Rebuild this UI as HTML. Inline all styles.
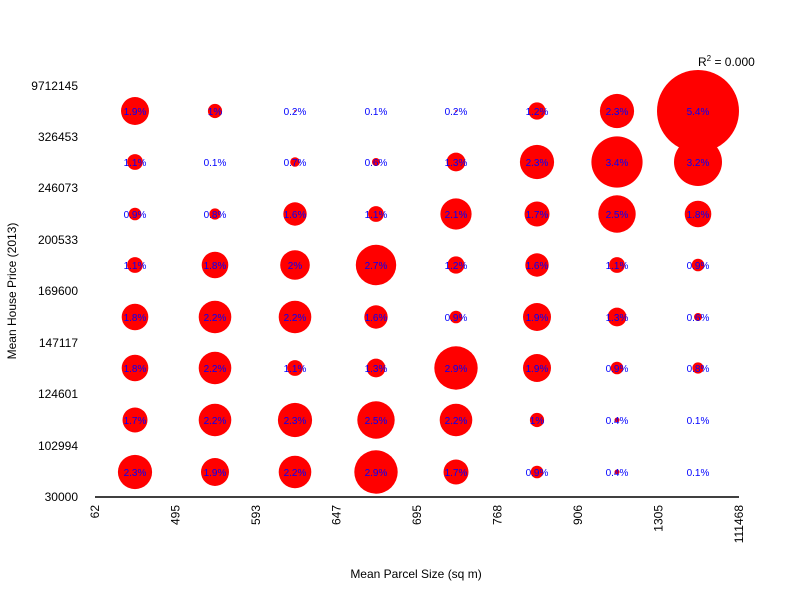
<!DOCTYPE html>
<html><head><meta charset="utf-8"><style>
html,body{margin:0;padding:0;background:#fff}
svg{display:block}
text{font-family:"Liberation Sans",sans-serif}
.p{font-size:10px;fill:#00f;text-anchor:middle}
</style></head><body>
<svg width="800" height="600" xmlns="http://www.w3.org/2000/svg">
<g fill="#f00">
<circle cx="135" cy="111" r="14.0"/><circle cx="215" cy="111" r="7.1"/><circle cx="295" cy="111" r="0.9"/><circle cx="456" cy="111" r="0.9"/><circle cx="537" cy="111" r="8.6"/><circle cx="617" cy="111" r="17.1"/><circle cx="698" cy="111" r="41"/>
<circle cx="135" cy="162" r="7.9"/><circle cx="295" cy="162" r="4.8"/><circle cx="376" cy="162" r="4.0"/><circle cx="456" cy="162" r="9.4"/><circle cx="537" cy="162" r="17.1"/><circle cx="617" cy="162" r="25.6"/><circle cx="698" cy="162" r="24.0"/>
<circle cx="135" cy="214" r="6.3"/><circle cx="215" cy="214" r="5.6"/><circle cx="295" cy="214" r="11.7"/><circle cx="376" cy="214" r="7.9"/><circle cx="456" cy="214" r="15.6"/><circle cx="537" cy="214" r="12.5"/><circle cx="617" cy="214" r="18.7"/><circle cx="698" cy="214" r="13.3"/>
<circle cx="135" cy="265" r="7.9"/><circle cx="215" cy="265" r="13.3"/><circle cx="295" cy="265" r="14.8"/><circle cx="376" cy="265" r="20.2"/><circle cx="456" cy="265" r="8.6"/><circle cx="537" cy="265" r="11.7"/><circle cx="617" cy="265" r="7.9"/><circle cx="698" cy="265" r="6.3"/>
<circle cx="135" cy="317" r="13.3"/><circle cx="215" cy="317" r="16.3"/><circle cx="295" cy="317" r="16.3"/><circle cx="376" cy="317" r="11.7"/><circle cx="456" cy="317" r="6.3"/><circle cx="537" cy="317" r="14.0"/><circle cx="617" cy="317" r="9.4"/><circle cx="698" cy="317" r="4.0"/>
<circle cx="135" cy="368" r="13.3"/><circle cx="215" cy="368" r="16.3"/><circle cx="295" cy="368" r="7.9"/><circle cx="376" cy="368" r="9.4"/><circle cx="456" cy="368" r="21.7"/><circle cx="537" cy="368" r="14.0"/><circle cx="617" cy="368" r="6.3"/><circle cx="698" cy="368" r="5.6"/>
<circle cx="135" cy="420" r="12.5"/><circle cx="215" cy="420" r="16.3"/><circle cx="295" cy="420" r="17.1"/><circle cx="376" cy="420" r="18.7"/><circle cx="456" cy="420" r="16.3"/><circle cx="537" cy="420" r="7.1"/><circle cx="617" cy="420" r="2.5"/>
<circle cx="135" cy="472" r="17.1"/><circle cx="215" cy="472" r="14.0"/><circle cx="295" cy="472" r="16.3"/><circle cx="376" cy="472" r="21.7"/><circle cx="456" cy="472" r="12.5"/><circle cx="537" cy="472" r="6.3"/><circle cx="617" cy="472" r="2.5"/>
</g>
<g class="p">
<text class="p" x="135" y="115">1.9%</text><text class="p" x="215" y="115">1%</text><text class="p" x="295" y="115">0.2%</text><text class="p" x="376" y="115">0.1%</text><text class="p" x="456" y="115">0.2%</text><text class="p" x="537" y="115">1.2%</text><text class="p" x="617" y="115">2.3%</text><text class="p" x="698" y="115">5.4%</text>
<text class="p" x="135" y="166">1.1%</text><text class="p" x="215" y="166">0.1%</text><text class="p" x="295" y="166">0.7%</text><text class="p" x="376" y="166">0.6%</text><text class="p" x="456" y="166">1.3%</text><text class="p" x="537" y="166">2.3%</text><text class="p" x="617" y="166">3.4%</text><text class="p" x="698" y="166">3.2%</text>
<text class="p" x="135" y="218">0.9%</text><text class="p" x="215" y="218">0.8%</text><text class="p" x="295" y="218">1.6%</text><text class="p" x="376" y="218">1.1%</text><text class="p" x="456" y="218">2.1%</text><text class="p" x="537" y="218">1.7%</text><text class="p" x="617" y="218">2.5%</text><text class="p" x="698" y="218">1.8%</text>
<text class="p" x="135" y="269">1.1%</text><text class="p" x="215" y="269">1.8%</text><text class="p" x="295" y="269">2%</text><text class="p" x="376" y="269">2.7%</text><text class="p" x="456" y="269">1.2%</text><text class="p" x="537" y="269">1.6%</text><text class="p" x="617" y="269">1.1%</text><text class="p" x="698" y="269">0.9%</text>
<text class="p" x="135" y="321">1.8%</text><text class="p" x="215" y="321">2.2%</text><text class="p" x="295" y="321">2.2%</text><text class="p" x="376" y="321">1.6%</text><text class="p" x="456" y="321">0.9%</text><text class="p" x="537" y="321">1.9%</text><text class="p" x="617" y="321">1.3%</text><text class="p" x="698" y="321">0.6%</text>
<text class="p" x="135" y="372">1.8%</text><text class="p" x="215" y="372">2.2%</text><text class="p" x="295" y="372">1.1%</text><text class="p" x="376" y="372">1.3%</text><text class="p" x="456" y="372">2.9%</text><text class="p" x="537" y="372">1.9%</text><text class="p" x="617" y="372">0.9%</text><text class="p" x="698" y="372">0.8%</text>
<text class="p" x="135" y="424">1.7%</text><text class="p" x="215" y="424">2.2%</text><text class="p" x="295" y="424">2.3%</text><text class="p" x="376" y="424">2.5%</text><text class="p" x="456" y="424">2.2%</text><text class="p" x="537" y="424">1%</text><text class="p" x="617" y="424">0.4%</text><text class="p" x="698" y="424">0.1%</text>
<text class="p" x="135" y="476">2.3%</text><text class="p" x="215" y="476">1.9%</text><text class="p" x="295" y="476">2.2%</text><text class="p" x="376" y="476">2.9%</text><text class="p" x="456" y="476">1.7%</text><text class="p" x="537" y="476">0.9%</text><text class="p" x="617" y="476">0.4%</text><text class="p" x="698" y="476">0.1%</text>
</g>
<line x1="95" y1="497" x2="739" y2="497" stroke="#000" stroke-width="1.5"/>
<g font-size="12" fill="#000" text-anchor="end">
<text x="78" y="90">9712145</text>
<text x="78" y="141">326453</text>
<text x="78" y="192">246073</text>
<text x="78" y="244">200533</text>
<text x="78" y="295">169600</text>
<text x="78" y="347">147117</text>
<text x="78" y="398">124601</text>
<text x="78" y="450">102994</text>
<text x="78" y="501">30000</text>
</g>
<g font-size="12" fill="#000" text-anchor="end">
<text transform="translate(99,505) rotate(-90)">62</text>
<text transform="translate(179.5,505) rotate(-90)">495</text>
<text transform="translate(260,505) rotate(-90)">593</text>
<text transform="translate(340.5,505) rotate(-90)">647</text>
<text transform="translate(421,505) rotate(-90)">695</text>
<text transform="translate(501.5,505) rotate(-90)">768</text>
<text transform="translate(582,505) rotate(-90)">906</text>
<text transform="translate(662.5,505) rotate(-90)">1305</text>
<text transform="translate(743,505) rotate(-90)">111468</text>
</g>
<text x="416" y="578" font-size="12" text-anchor="middle">Mean Parcel Size (sq m)</text>
<text transform="translate(16,291) rotate(-90)" font-size="12" text-anchor="middle">Mean House Price (2013)</text>
<text x="698" y="66" font-size="12">R<tspan dy="-5" font-size="8">2</tspan><tspan dy="5"> = 0.000</tspan></text>
</svg>
</body></html>
